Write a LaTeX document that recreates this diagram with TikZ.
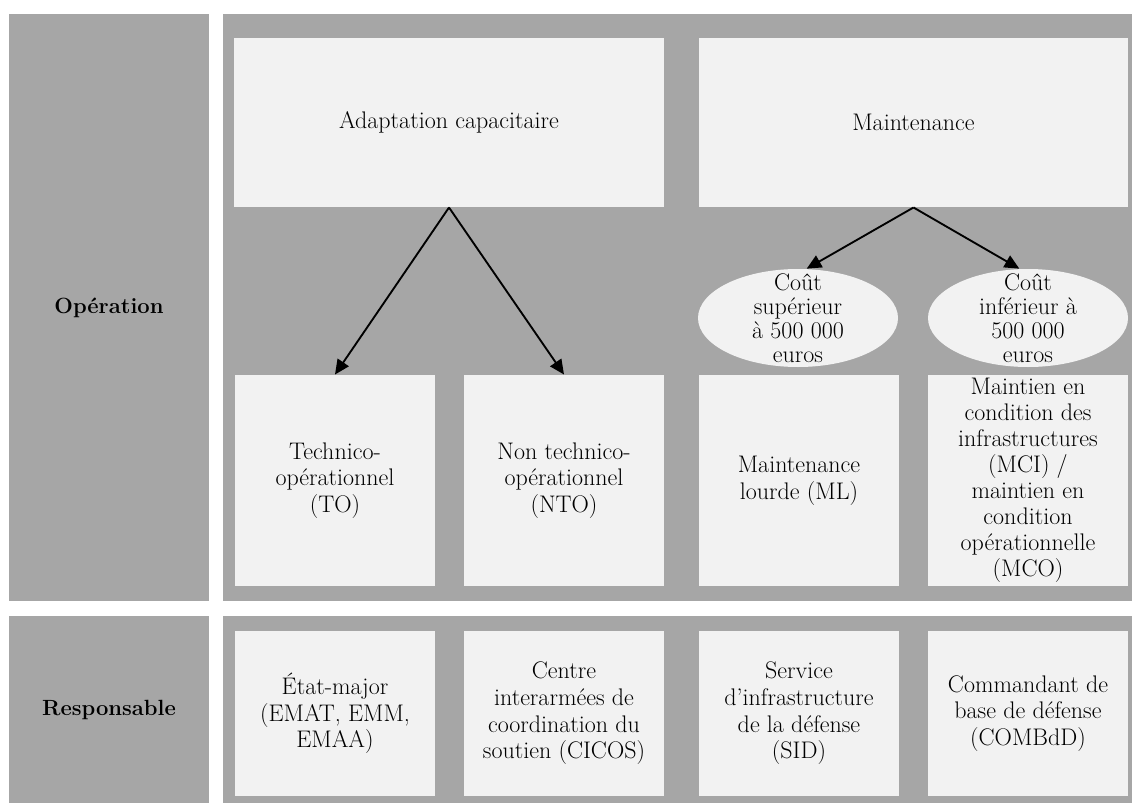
\documentclass[tikz,border=0pt]{standalone}
\usepackage{fontspec}
\usetikzlibrary{arrows.meta,shapes.geometric}

\definecolor{panelgrey}{RGB}{166,166,166}
\definecolor{cellgrey}{RGB}{242,242,242}

\tikzset{every picture/.style={line width=0.75pt}}
\tikzset{
  panel/.style={fill=panelgrey, inner sep=0pt, minimum width=150pt, font=\fontsize{16.5}{20}\selectfont\bfseries},
  cell/.style={fill=cellgrey, inner sep=0pt, align=center, minimum width=150pt, font=\fontsize{18}{20}\selectfont},
  costell/.style={ellipse, fill=cellgrey, inner sep=0pt, minimum width=150pt, minimum height=73.5pt},
  costtxt/.style={align=center, inner sep=0pt, font=\fontsize{18}{18}\selectfont},
  arr/.style={line width=1.4pt, -{Triangle[length=11pt,width=10pt]}}
}

\begin{document}
\begin{tikzpicture}[x=0.75pt,y=0.75pt,yscale=-1,xscale=1]
\useasboundingbox (0,0) rectangle (1132,803);

% Backgrounds
\fill[panelgrey] (223,14) rectangle (1132,601);
\fill[panelgrey] (223,616) rectangle (1132,803);

% Row labels
\node[panel, minimum height=440.25pt] (op) at (109,307.5) {Opération};
\node[panel, minimum height=140.25pt] (resp) at (109,709.5) {Responsable};

% Top boxes
\node[cell, minimum width=322.5pt, minimum height=126.75pt] (adapt) at (449,122.5) {Adaptation capacitaire};
\node[cell, minimum width=321.75pt, minimum height=126.75pt] (maint) at (913.5,122.5) {Maintenance};

% Cost ellipses
\node[costell, label={[costtxt]center:{Coût\\supérieur\\à 500 000\\euros}}] (costhi) at (798,318) {};
\node[costell, label={[costtxt]center:{Coût\\inférieur à\\500 000\\euros}}] (costlo) at (1028,318) {};

% Operation boxes
\node[cell, minimum height=158.25pt] (to) at (335,480.5) {Technico-\\opérationnel\\(TO)};
\node[cell, minimum height=158.25pt] (nto) at (564,480.5) {Non technico-\\opérationnel\\(NTO)};
\node[cell, minimum height=158.25pt] (ml) at (799,480.5) {Maintenance\\lourde (ML)};
\node[cell, minimum height=158.25pt, font=\fontsize{18}{19.5}\selectfont] (mci) at (1028,480.5) {Maintien en\\condition des\\infrastructures\\(MCI) /\\maintien en\\condition\\opérationnelle\\(MCO)};

% Responsible boxes
\node[cell, minimum height=123.75pt] (etat) at (335,713.5) {État-major\\(EMAT, EMM,\\EMAA)};
\node[cell, minimum height=123.75pt] (cicos) at (564,713.5) {Centre\\interarmées de\\coordination du\\soutien (CICOS)};
\node[cell, minimum height=123.75pt] (sid) at (799,713.5) {Service\\d’infrastructure\\de la défense\\(SID)};
\node[cell, minimum height=123.75pt] (combdd) at (1028,713.5) {Commandant de\\base de défense\\(COMBdD)};

% Arrows
\draw[arr] (adapt.south) -- (to.north);
\draw[arr] (adapt.south) -- (nto.north);
\draw[arr] (maint.south) -- (costhi.80);
\draw[arr] (maint.south) -- (costlo.100);

\end{tikzpicture}
\end{document}
